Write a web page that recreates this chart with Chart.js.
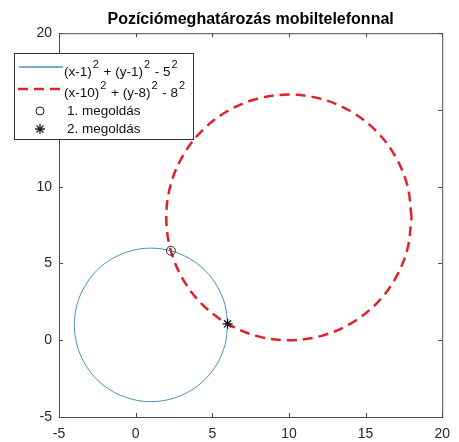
<!DOCTYPE html>
<html>
<head>
<meta charset="utf-8">
<script src="https://cdn.jsdelivr.net/npm/chart.js@4.4.0/dist/chart.umd.min.js"></script>
<style>
body { margin: 0; background: #fff; }
#wrap { width: 459px; height: 442px; }
</style>
</head>
<body>
<div id="wrap"><canvas id="chart"></canvas></div>
<script>
// ---- data --------------------------------------------------------------
const titleText = 'Pozíciómeghatározás mobiltelefonnal'
const tickValues = [-5, 0, 5, 10, 15, 20]
const legendLabels = ['(x-1)^2 + (y-1)^2 - 5^2', '(x-10)^2 + (y-8)^2 - 8^2', '1. megoldás', '2. megoldás']

// first circle (blue, solid)
const circle1X = [6, 5.83, 5.33, 4.54, 3.5, 2.29, 1, -0.29, -1.5, -2.54, -3.33, -3.83, -4,
                  -3.83, -3.33, -2.54, -1.5, -0.29, 1, 2.29, 3.5, 4.54, 5.33, 5.83, 6]
const circle1Y = [1, 2.29, 3.5, 4.54, 5.33, 5.83, 6, 5.83, 5.33, 4.54, 3.5, 2.29, 1,
                  -0.29, -1.5, -2.54, -3.33, -3.83, -4, -3.83, -3.33, -2.54, -1.5, -0.29, 1]

// second circle (red, dashed)
const circle2X = [18, 17.73, 16.93, 15.66, 14, 12.07, 10, 7.93, 6, 4.34, 3.07, 2.27, 2,
                  2.27, 3.07, 4.34, 6, 7.93, 10, 12.07, 14, 15.66, 16.93, 17.73, 18]
const circle2Y = [8, 10.07, 12, 13.66, 14.93, 15.73, 16, 15.73, 14.93, 13.66, 12, 10.07, 8,
                  5.93, 4, 2.34, 1.07, 0.27, 0, 0.27, 1.07, 2.34, 4, 5.93, 8]

// the two solutions
const solution1 = [2.3, 5.83]
const solution2 = [6.0, 1.07]

// ------------------------------------------------------------------------
const fontName = "'Liberation Sans', Arial, sans-serif"
const blue = '#4592c6'
const red = '#e1202b'

function toPoints(xs, ys) {
    return xs.map((x, i) => ({ x: x, y: ys[i] }))
}

// text with ^2 style superscripts
function drawRich(ctx, text, x, y) {
    const parts = text.split(/\^(\d)/)
    ctx.textBaseline = 'middle'
    ctx.textAlign = 'left'
    for (let i = 0; i < parts.length; i++) {
        if (!parts[i]) continue
        if (i % 2 === 0) {
            ctx.font = '13.5px ' + fontName
            ctx.fillText(parts[i], x, y)
            x += ctx.measureText(parts[i]).width
        } else {
            ctx.font = '11px ' + fontName
            ctx.fillText(parts[i], x + 1, y - 7)
            x += ctx.measureText(parts[i]).width + 2
        }
    }
}

const framePlugin = {
    id: 'frame',
    afterDraw(chart) {
        const ctx = chart.ctx
        const a = chart.chartArea
        const sx = chart.scales.x
        const sy = chart.scales.y
        ctx.save()
        // box and inward ticks
        ctx.strokeStyle = '#4a4a4a'
        ctx.lineWidth = 1
        ctx.strokeRect(a.left + 0.5, a.top + 0.5, a.right - a.left, a.bottom - a.top)
        ctx.beginPath()
        tickValues.forEach(v => {
            const px = Math.round(sx.getPixelForValue(v)) + 0.5
            ctx.moveTo(px, a.bottom); ctx.lineTo(px, a.bottom - 4)
            ctx.moveTo(px, a.top); ctx.lineTo(px, a.top + 4)
            const py = Math.round(sy.getPixelForValue(v)) + 0.5
            ctx.moveTo(a.left, py); ctx.lineTo(a.left + 4, py)
            ctx.moveTo(a.right, py); ctx.lineTo(a.right - 4, py)
        })
        ctx.stroke()

        // legend box
        const lx = 14, ly = 53, lw = 179, lh = 86
        ctx.fillStyle = '#fff'
        ctx.fillRect(lx, ly, lw, lh)
        ctx.strokeStyle = '#333'
        ctx.strokeRect(lx + 0.5, ly + 0.5, lw, lh)

        const rows = [67, 89, 111, 129]
        // blue line
        ctx.strokeStyle = blue
        ctx.lineWidth = 1.5
        ctx.beginPath(); ctx.moveTo(19, rows[0]); ctx.lineTo(63, rows[0]); ctx.stroke()
        // red dashed
        ctx.strokeStyle = red
        ctx.lineWidth = 2.5
        ctx.setLineDash([10, 6])
        ctx.beginPath(); ctx.moveTo(18, rows[1]); ctx.lineTo(63, rows[1]); ctx.stroke()
        ctx.setLineDash([])
        // circle marker
        ctx.strokeStyle = '#222'
        ctx.lineWidth = 1
        ctx.beginPath(); ctx.arc(40, rows[2], 4, 0, Math.PI * 2); ctx.stroke()
        // star marker
        ctx.lineWidth = 1.3
        ctx.beginPath()
        for (let k = 0; k < 4; k++) {
            const ang = k * Math.PI / 4
            ctx.moveTo(40 - 5 * Math.cos(ang), rows[3] - 5 * Math.sin(ang))
            ctx.lineTo(40 + 5 * Math.cos(ang), rows[3] + 5 * Math.sin(ang))
        }
        ctx.stroke()

        ctx.fillStyle = '#111'
        drawRich(ctx, legendLabels[0], 64, rows[0] + 5)
        drawRich(ctx, legendLabels[1], 64, rows[1] + 4)
        drawRich(ctx, legendLabels[2], 67, rows[2])
        drawRich(ctx, legendLabels[3], 67, rows[3])
        ctx.restore()
    }
}

const axisCommon = {
    type: 'linear',
    min: -5,
    max: 20,
    grid: { display: false, drawTicks: false },
    border: { display: false },
    afterBuildTicks: scale => { scale.ticks = tickValues.map(v => ({ value: v })) }
}

const config = {
    type: 'scatter',
    data: {
        datasets: [
            {
                label: legendLabels[2],
                data: [{ x: solution1[0], y: solution1[1] }],
                pointStyle: 'circle',
                pointRadius: 4.5,
                borderColor: '#2a2a2a',
                backgroundColor: 'rgba(0,0,0,0)',
                borderWidth: 1,
                order: 0
            },
            {
                label: legendLabels[3],
                data: [{ x: solution2[0], y: solution2[1] }],
                pointStyle: 'star',
                pointRadius: 5,
                borderColor: '#111',
                borderWidth: 1.3,
                order: 0
            },
            {
                label: legendLabels[1],
                data: toPoints(circle2X, circle2Y),
                showLine: true,
                tension: 0.35,
                borderColor: red,
                borderWidth: 2.5,
                borderDash: [10, 6],
                pointRadius: 0,
                order: 1
            },
            {
                label: legendLabels[0],
                data: toPoints(circle1X, circle1Y),
                showLine: true,
                tension: 0.35,
                borderColor: blue,
                borderWidth: 1,
                pointRadius: 0,
                order: 2
            }
        ]
    },
    options: {
        responsive: true,
        maintainAspectRatio: false,
        animation: false,
        layout: { padding: { left: 0, right: 14, top: 0, bottom: 0 } },
        plugins: {
            legend: { display: false },
            tooltip: { enabled: false },
            title: {
                display: true,
                text: titleText,
                fullSize: false,
                color: '#000',
                font: { family: fontName, size: 16, weight: 'bold' },
                padding: { top: 10, bottom: 4 }
            }
        },
        scales: {
            x: Object.assign({}, axisCommon, {
                position: 'bottom',
                ticks: { color: '#262626', padding: 9, maxRotation: 0, font: { family: fontName, size: 14 } },
                afterFit: scale => { scale.height = 25 }
            }),
            y: Object.assign({}, axisCommon, {
                position: 'left',
                ticks: { color: '#262626', padding: 7, font: { family: fontName, size: 14 } },
                afterFit: scale => { scale.width = 59 }
            })
        }
    },
    plugins: [framePlugin]
}

const chart = new Chart(document.getElementById('chart'), config)
</script>
</body>
</html>
